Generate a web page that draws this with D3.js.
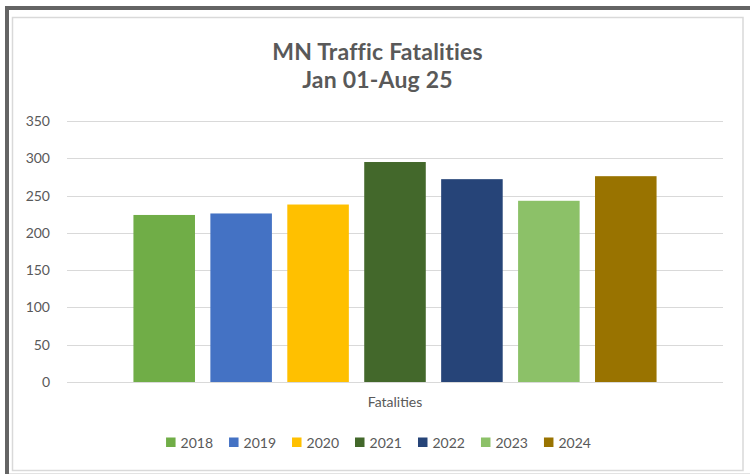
<!DOCTYPE html>
<html>
<head>
<meta charset="utf-8">
<script src="https://cdn.jsdelivr.net/npm/d3@7"></script>
<style>
  html, body { margin: 0; padding: 0; background: #fff; }
  svg { display: block; }
  text { font-family: Lato, "Open Sans", sans-serif; fill: #595959; }
</style>
</head>
<body>
<svg id="chart" width="750" height="474"></svg>
<script>
// ---- data ----
const categories = ["Fatalities"];
const years = ["2018", "2019", "2020", "2021", "2022", "2023", "2024"];
const values = [224, 226, 238, 295, 272, 243, 276];
const colors = ["#70AD47", "#4472C4", "#FFC000", "#43682B", "#264478", "#8CC168", "#997300"];
const yTicks = [0, 50, 100, 150, 200, 250, 300, 350];
const titleLines = ["MN Traffic Fatalities", "Jan 01-Aug 25"];

const svg = d3.select("#chart");

// frame
svg.append("rect").attr("x", 0).attr("y", 0).attr("width", 750).attr("height", 474).attr("fill", "#fff");
svg.append("rect").attr("x", 5).attr("y", 6).attr("width", 745).attr("height", 4).attr("fill", "#646464");
svg.append("rect").attr("x", 5).attr("y", 6).attr("width", 4).attr("height", 468).attr("fill", "#646464");
svg.append("rect").attr("x", 12.5).attr("y", 17.5).attr("width", 730.5).attr("height", 453)
  .attr("fill", "#fff").attr("stroke", "#d9d9d9").attr("stroke-width", 1.5);
svg.append("line").attr("x1", 9).attr("x2", 750).attr("y1", 473.5).attr("y2", 473.5)
  .attr("stroke", "#e3e3e3").attr("stroke-width", 1);

// title
const chartCenter = 377.5;
svg.append("text").attr("x", chartCenter).attr("y", 60).attr("text-anchor", "middle")
  .style("font-size", "23px").style("font-weight", "bold").style("letter-spacing", "0.2px").text(titleLines[0]);
svg.append("text").attr("x", chartCenter).attr("y", 88).attr("text-anchor", "middle")
  .style("font-size", "23px").style("font-weight", "bold").style("letter-spacing", "0.2px").text(titleLines[1]);

// scales
const plotL = 67, plotR = 723, plotT = 121, plotB = 382;
const y = d3.scaleLinear().domain([0, 350]).range([plotB, plotT]);
const x0 = d3.scaleBand().domain(categories).range([plotL, plotR]).paddingInner(0).paddingOuter(0.127);
const x1 = d3.scaleBand().domain(years).range([0, x0.bandwidth()]).paddingInner(0.2).paddingOuter(0);

// gridlines
svg.append("g").selectAll("line").data(yTicks).join("line")
  .attr("x1", plotL).attr("x2", plotR)
  .attr("y1", d => Math.round(y(d)) + 0.5).attr("y2", d => Math.round(y(d)) + 0.5)
  .attr("stroke", "#d9d9d9").attr("stroke-width", 1);

// y axis labels
const yAxis = d3.axisLeft(y).tickValues(yTicks).tickSize(0).tickPadding(0);
const gy = svg.append("g").attr("transform", `translate(50,0)`).call(yAxis);
gy.select(".domain").remove();
gy.selectAll("text").style("font-size", "14px").style("fill", "#595959")
  .style("font-family", "Lato, 'Open Sans', sans-serif");

// bars
const g = svg.append("g").attr("transform", `translate(${x0(categories[0])},0)`);
g.selectAll("rect").data(years).join("rect")
  .attr("x", d => x1(d))
  .attr("y", (d, i) => y(values[i]))
  .attr("width", x1.bandwidth())
  .attr("height", (d, i) => y(0) - y(values[i]))
  .attr("fill", (d, i) => colors[i]);

// category axis label
const xAxis = d3.axisBottom(x0).tickSize(0).tickPadding(0);
const gx = svg.append("g").attr("transform", `translate(0,397)`).call(xAxis);
gx.select(".domain").remove();
gx.selectAll("text").style("font-size", "14px").style("fill", "#595959")
  .style("font-family", "Lato, 'Open Sans', sans-serif");

// legend
const legend = svg.append("g");
const items = legend.selectAll("g").data(years).join("g");
items.append("rect").attr("width", 9.5).attr("height", 9.5).attr("y", 437.5)
  .attr("fill", (d, i) => colors[i]);
items.append("text").attr("x", 14.5).attr("y", 447.5).style("font-size", "14px").text(d => d);
let widths = [];
items.each(function () { widths.push(this.querySelector("text").getComputedTextLength()); });
const gap = 16;
const itemW = widths.map(w => 14.5 + w);
const total = d3.sum(itemW) + gap * (years.length - 1);
let cx = chartCenter - total / 2 + 1;
items.attr("transform", (d, i) => {
  const t = `translate(${cx},0)`;
  cx += itemW[i] + gap;
  return t;
});
</script>
</body>
</html>
